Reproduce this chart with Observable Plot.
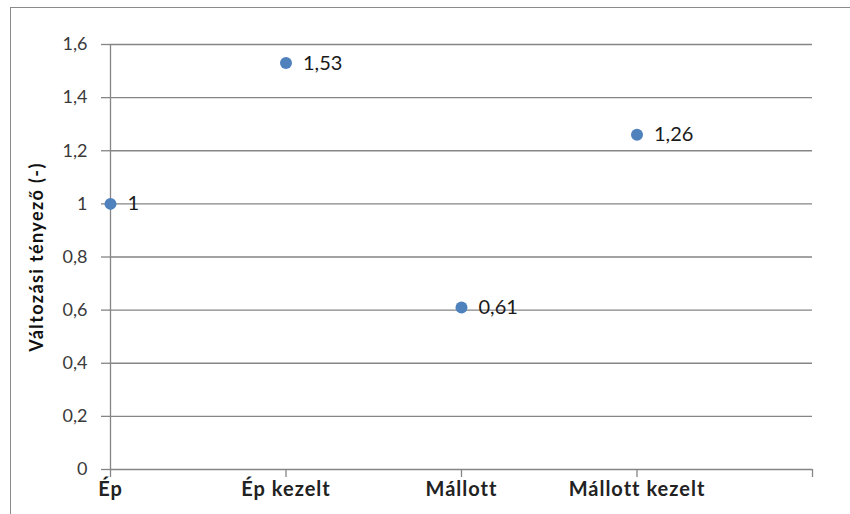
<!DOCTYPE html>
<html>
<head>
<meta charset="utf-8">
<script src="https://cdn.jsdelivr.net/npm/d3@7"></script>
<script src="https://cdn.jsdelivr.net/npm/@observablehq/plot@0.6"></script>
<style>
  html, body { margin: 0; padding: 0; background: #fff; }
  #wrap { position: relative; width: 850px; height: 514px; overflow: hidden; }
  #border { position: absolute; left: 10px; top: 7px; width: 900px; height: 600px; border: 1px solid #8a8a8a; box-sizing: border-box; pointer-events: none; }
  g[aria-label="y-axis label"] text { font-weight: bold; font-size: 18px; letter-spacing: 1.4px; fill: #111; }
  g[aria-label="x-axis tick label"] text { font-weight: bold; letter-spacing: 1px; }
</style>
</head>
<body>
<div id="wrap"><div id="border"></div></div>
<script>
const categories = ["Ép", "Ép kezelt", "Mállott", "Mállott kezelt"];
const values = [1, 1.53, 0.61, 1.26];
const yTicks = [0, 0.2, 0.4, 0.6, 0.8, 1, 1.2, 1.4, 1.6];
const yTitle = "Változási tényező (-)";

const fmt = d => String(+d.toFixed(2)).replace(".", ",");
const data = categories.map((c, i) => ({i, cat: c, v: values[i]}));

const chart = Plot.plot({
  width: 850,
  height: 514,
  marginLeft: 110,
  marginRight: 38,
  marginTop: 44,
  marginBottom: 45,
  style: {fontFamily: "Lato, 'Open Sans', sans-serif", background: "transparent", color: "#222"},
  x: {domain: [0, 4]},
  y: {domain: [0, 1.6]},
  marks: [
    Plot.gridY(yTicks, {stroke: "#858585", strokeOpacity: 1, strokeWidth: 1.3}),
    Plot.axisY({ticks: yTicks, tickSize: 9, tickPadding: 14, tickFormat: fmt, fontSize: 18,
      stroke: "#858585", strokeOpacity: 1, strokeWidth: 1.3, fill: "#3a3a3a",
      label: yTitle, labelAnchor: "center", labelArrow: "none", labelOffset: 80}),
    Plot.ruleX([0], {stroke: "#858585", strokeWidth: 1.3}),
    Plot.axisX({ticks: [0, 1, 2, 3, 4], tickSize: 8, tickPadding: 4, fontSize: 20,
      tickFormat: i => categories[i] ?? "", stroke: "#858585", strokeOpacity: 1, strokeWidth: 1.3, fill: "#222", label: null}),
    Plot.dot(data, {x: "i", y: "v", r: 6, fill: "#4F81BD", stroke: "none"}),
    Plot.text(data, {x: "i", y: "v", text: d => fmt(d.v), dx: 17, textAnchor: "start", fontSize: 20, fill: "#1a1a1a"})
  ]
});
document.getElementById("wrap").prepend(chart);
</script>
</body>
</html>
